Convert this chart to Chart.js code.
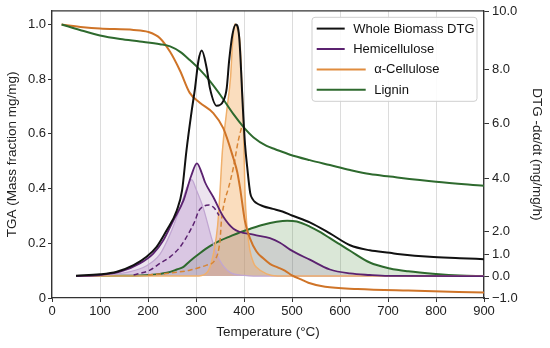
<!DOCTYPE html>
<html>
<head>
<meta charset="utf-8">
<script src="https://cdn.jsdelivr.net/npm/chart.js@4.4.1/dist/chart.umd.min.js"></script>
<style>
  html, body { margin: 0; padding: 0; background: #fff; }
  #wrap { width: 550px; height: 348px; }
</style>
</head>
<body>
<div id="wrap"><canvas id="chart" width="550" height="348"></canvas></div>
<script>
// ---- values ----
// temperatures in °C; TGA on the left axis (mg/mg), DTG on the right axis (mg/mg/h)

// Whole biomass DTG (black)
const bioT   = [50, 100, 135, 170, 197, 218, 239, 260, 271, 280, 291, 298, 305, 312, 322, 329, 343, 357, 364, 369, 376, 383, 390, 398, 402, 407, 413, 418, 425, 440, 460, 480, 500, 537, 579, 621, 662, 704, 725, 787, 850, 900];
const bioDtg = [0.02, 0.08, 0.2, 0.5, 0.88, 1.32, 2.04, 2.79, 3.55, 5.0, 6.46, 7.3, 8.28, 8.64, 8.05, 7.3, 6.65, 6.83, 7.3, 8.28, 9.2, 9.54, 9.1, 6.46, 5.27, 4.36, 3.45, 3.22, 3.08, 2.95, 2.85, 2.75, 2.6, 2.34, 1.91, 1.39, 1.17, 1.06, 1.0, 0.88, 0.82, 0.77];

// Hemicellulose DTG (solid purple) and its two components
const hemiT   = [50, 100, 142, 183, 211, 232, 253, 274, 290, 302, 312, 319, 336, 357, 378, 420, 454, 475, 496, 537, 579, 621, 662, 700, 900];
const hemiDtg = [0, 0.05, 0.2, 0.58, 1.03, 1.61, 2.42, 3.17, 4.1, 4.55, 4.2, 3.85, 3.3, 2.55, 2.1, 1.85, 1.7, 1.5, 1.2, 0.75, 0.3, 0.12, 0.05, 0.01, 0];
const hemiAT   = [50, 100, 156, 197, 225, 246, 267, 281, 291, 300, 315, 336, 350, 371, 400, 420, 900];
const hemiADtg = [0, 0.02, 0.17, 0.47, 1.0, 1.87, 2.89, 3.66, 3.96, 3.6, 2.89, 1.45, 0.7, 0.17, 0.03, 0, 0];
const hemiBT   = [170, 183, 204, 225, 246, 267, 287, 298, 305, 316, 327, 338, 348];
const hemiBDtg = [0.05, 0.12, 0.27, 0.58, 0.88, 1.32, 2.0, 2.4, 2.75, 2.95, 3.0, 2.88, 2.6];

// α-Cellulose: DTG peak, dashed component, TGA
const celT   = [50, 300, 320, 329, 338, 345, 350, 355, 364, 372, 376, 381, 386, 392, 395, 398, 402, 406, 412, 420, 426, 447, 470, 900];
const celDtg = [0, 0, 0.1, 0.4, 1.2, 2.2, 3.5, 5.0, 6.46, 7.7, 8.85, 9.56, 9.4, 8.85, 7.7, 6.46, 3.5, 2.2, 1.2, 0.6, 0.4, 0.1, 0, 0];
const celDashT   = [200, 250, 287, 322, 340, 350, 353, 360, 367, 378, 388, 395];
const celDashDtg = [0.05, 0.15, 0.27, 0.5, 0.75, 1.6, 2.4, 3.17, 3.6, 4.41, 5.37, 5.86];
const celTgaT = [20, 65, 100, 170, 200, 225, 246, 267, 287, 308, 336, 357, 378, 386, 392, 402, 412, 426, 440, 454, 470, 485, 500, 520, 534, 569, 637, 742, 900];
const celTga  = [1.0, 0.99, 0.985, 0.98, 0.973, 0.95, 0.9, 0.83, 0.75, 0.714, 0.676, 0.62, 0.51, 0.46, 0.40, 0.28, 0.22, 0.17, 0.145, 0.125, 0.112, 0.1, 0.083, 0.067, 0.056, 0.041, 0.033, 0.027, 0.02];

// Lignin: DTG and TGA
const ligT   = [50, 150, 204, 239, 260, 274, 287, 308, 329, 350, 371, 392, 412, 440, 468, 490, 510, 537, 560, 579, 600, 621, 662, 704, 742, 800, 850, 900];
const ligDtg = [0, 0.01, 0.05, 0.15, 0.3, 0.42, 0.68, 1.04, 1.35, 1.59, 1.78, 1.96, 2.09, 2.25, 2.36, 2.4, 2.37, 2.18, 1.95, 1.7, 1.43, 1.15, 0.62, 0.35, 0.22, 0.1, 0.03, 0];
const ligTgaT = [20, 58, 100, 142, 183, 225, 246, 267, 287, 308, 329, 350, 378, 400, 420, 447, 465, 496, 537, 579, 621, 662, 704, 800, 900];
const ligTga  = [1.0, 0.98, 0.96, 0.947, 0.938, 0.928, 0.92, 0.9, 0.87, 0.835, 0.793, 0.744, 0.672, 0.623, 0.587, 0.556, 0.544, 0.524, 0.504, 0.486, 0.468, 0.453, 0.444, 0.425, 0.41];

// tick labels
const tempTicks = [0, 100, 200, 300, 400, 500, 600, 700, 800, 900];
const tgaTicks = [0, 0.2, 0.4, 0.6, 0.8, 1.0];
const dtgTicks = [-1, 0, 1, 2, 4, 6, 8, 10];
const legendLabels = ['Whole Biomass DTG', 'Hemicellulose', 'α-Cellulose', 'Lignin'];

function pts(xs, ys) {
    return xs.map((x, i) => ({ x: x, y: ys[i] }));
}

// The right axis of the figure is not evenly spaced: each labelled value
// sits at its own height, so map values piecewise between the labels.
const dtgKnotFrac = [0, 0.0763, 0.1525, 0.2322, 0.4159, 0.6076, 0.7972, 0.9983];

function lerpKnots(v, xs, ys) {
    let i = 0;
    while (i < xs.length - 2 && v > xs[i + 1]) i++;
    const t = (v - xs[i]) / (xs[i + 1] - xs[i]);
    return ys[i] + t * (ys[i + 1] - ys[i]);
}

class DtgScale extends Chart.LinearScale {
    getPixelForValue(value) {
        const f = lerpKnots(value, dtgTicks, dtgKnotFrac);
        return this.bottom - f * (this.bottom - this.top);
    }
    getValueForPixel(pixel) {
        const f = (this.bottom - pixel) / (this.bottom - this.top);
        return lerpKnots(f, dtgKnotFrac, dtgTicks);
    }
}
DtgScale.id = 'dtg';
DtgScale.defaults = Chart.LinearScale.defaults;
Chart.register(DtgScale);

Chart.defaults.font.family = "'Liberation Sans', Arial, Helvetica, sans-serif";
Chart.defaults.font.size = 13;
Chart.defaults.color = '#222';

// top border of the plot frame
const framePlugin = {
    id: 'frame',
    beforeDatasetsDraw(chart) {
        const { ctx, chartArea } = chart;
        ctx.save();
        ctx.strokeStyle = '#333';
        ctx.lineWidth = 1.3;
        ctx.beginPath();
        ctx.moveTo(chartArea.left, chartArea.top);
        ctx.lineTo(chartArea.right, chartArea.top);
        ctx.stroke();
        ctx.restore();
    }
};

// legend box inside the plot, top right
const legendPlugin = {
    id: 'boxLegend',
    afterDatasetsDraw(chart) {
        const { ctx, chartArea } = chart;
        const colors = ['#111111', '#5b2270', '#e08c3e', '#2e6a2e'];
        const lens = [28, 28, 49, 49];
        const w = 165, h = 84;
        const x = chartArea.right - 7 - w;
        const y = chartArea.top + 6.5;
        ctx.save();
        ctx.beginPath();
        ctx.roundRect(x, y, w, h, 3);
        ctx.fillStyle = 'rgba(255,255,255,0.88)';
        ctx.fill();
        ctx.strokeStyle = '#cfcfcf';
        ctx.lineWidth = 1;
        ctx.stroke();
        ctx.font = "13px 'Liberation Sans', Arial, sans-serif";
        ctx.textBaseline = 'middle';
        ctx.fillStyle = '#111';
        legendLabels.forEach((label, i) => {
            const ry = y + 11.3 + i * 20.4;
            const x0 = x + 4.7;
            ctx.strokeStyle = colors[i];
            ctx.lineWidth = 2;
            ctx.beginPath();
            ctx.moveTo(x0, ry);
            ctx.lineTo(x0 + lens[i], ry);
            ctx.stroke();
            ctx.fillText(label, x0 + lens[i] + 8.5, ry + 0.5);
        });
        ctx.restore();
    }
};

const lineBase = {
    pointRadius: 0,
    pointHoverRadius: 0,
    cubicInterpolationMode: 'monotone',
    fill: false
};

new Chart(document.getElementById('chart').getContext('2d'), {
    type: 'line',
    data: {
        datasets: [
            Object.assign({}, lineBase, {
                label: 'Whole Biomass DTG', data: pts(bioT, bioDtg), yAxisID: 'y2',
                borderColor: '#111111', borderWidth: 2, order: 0
            }),
            Object.assign({}, lineBase, {
                label: 'Hemicellulose', data: pts(hemiT, hemiDtg), yAxisID: 'y2',
                borderColor: '#5b2270', borderWidth: 1.8, order: 3,
                fill: 'origin', backgroundColor: 'rgba(125,75,145,0.15)'
            }),
            Object.assign({}, lineBase, {
                label: 'Hemicellulose A', data: pts(hemiAT, hemiADtg), yAxisID: 'y2',
                borderColor: '#c1a6d2', borderWidth: 1.3, order: 6,
                fill: 'origin', backgroundColor: 'rgba(170,120,200,0.25)'
            }),
            Object.assign({}, lineBase, {
                label: 'Hemicellulose B', data: pts(hemiBT, hemiBDtg), yAxisID: 'y2',
                borderColor: '#5b2270', borderWidth: 1.5, borderDash: [5, 3], order: 4
            }),
            Object.assign({}, lineBase, {
                label: 'α-Cellulose DTG', data: pts(celT, celDtg), yAxisID: 'y2',
                borderColor: '#f0b06c', borderWidth: 1.5, order: 5,
                fill: 'origin', backgroundColor: 'rgba(245,180,110,0.45)'
            }),
            Object.assign({}, lineBase, {
                label: 'α-Cellulose B', data: pts(celDashT, celDashDtg), yAxisID: 'y2',
                borderColor: '#d88535', borderWidth: 1.5, borderDash: [5, 3], order: 4
            }),
            Object.assign({}, lineBase, {
                label: 'Lignin DTG', data: pts(ligT, ligDtg), yAxisID: 'y2',
                borderColor: '#2e6a2e', borderWidth: 2, order: 7,
                fill: 'origin', backgroundColor: 'rgba(85,145,75,0.22)'
            }),
            Object.assign({}, lineBase, {
                label: 'α-Cellulose', data: pts(celTgaT, celTga), yAxisID: 'y',
                borderColor: '#cf7428', borderWidth: 2, order: 2
            }),
            Object.assign({}, lineBase, {
                label: 'Lignin', data: pts(ligTgaT, ligTga), yAxisID: 'y',
                borderColor: '#2e6a2e', borderWidth: 2, order: 1
            })
        ]
    },
    options: {
        responsive: false,
        animation: false,
        devicePixelRatio: 1,
        layout: { padding: { top: 9.5, left: 0, right: 0, bottom: 0 } },
        plugins: {
            legend: { display: false },
            tooltip: { enabled: false },
            filler: { drawTime: 'beforeDatasetsDraw' }
        },
        scales: {
            x: {
                type: 'linear',
                min: 0,
                max: 900,
                afterBuildTicks: s => { s.ticks = tempTicks.map(v => ({ value: v })); },
                afterFit: s => { s.height = 50; },
                ticks: { padding: 2, color: '#222', font: { size: 13 } },
                grid: { color: '#dcdcdc', lineWidth: 1, tickColor: '#333', tickLength: 4 },
                border: { color: '#333', width: 1.3 },
                title: {
                    display: true, text: 'Temperature (°C)', color: '#222',
                    font: { size: 13.5 }, padding: { top: 0, bottom: 8 }
                }
            },
            y: {
                position: 'left',
                min: 0,
                max: 1.05,
                afterBuildTicks: s => { s.ticks = tgaTicks.map(v => ({ value: v })); },
                afterFit: s => { s.width = 52; },
                ticks: {
                    padding: 2, color: '#222', font: { size: 13 },
                    callback: v => (v === 0 ? '0' : v.toFixed(1))
                },
                grid: { drawOnChartArea: false, tickColor: '#333', tickLength: 4 },
                border: { color: '#333', width: 1.3 },
                title: {
                    display: true, text: 'TGA (Mass fraction mg/mg)', color: '#222',
                    font: { size: 13.5 }, padding: { top: 4, bottom: 0 }
                }
            },
            y2: {
                type: 'dtg',
                position: 'right',
                min: -1,
                max: 10,
                afterBuildTicks: s => { s.ticks = dtgTicks.map(v => ({ value: v })); },
                afterFit: s => { s.width = 66; },
                ticks: {
                    padding: 3, color: '#222', font: { size: 13 },
                    callback: v => (v < 0 ? '\u2212' + Math.abs(v).toFixed(1) : v.toFixed(1))
                },
                grid: { drawOnChartArea: false, tickColor: '#333', tickLength: 5 },
                border: { color: '#333', width: 1.3 },
                title: {
                    display: true, text: 'DTG -dα/dt (mg/mg/h)', color: '#222',
                    font: { size: 13.5 }, padding: { top: 5, bottom: 0 }
                }
            }
        }
    },
    plugins: [framePlugin, legendPlugin]
});
</script>
</body>
</html>
